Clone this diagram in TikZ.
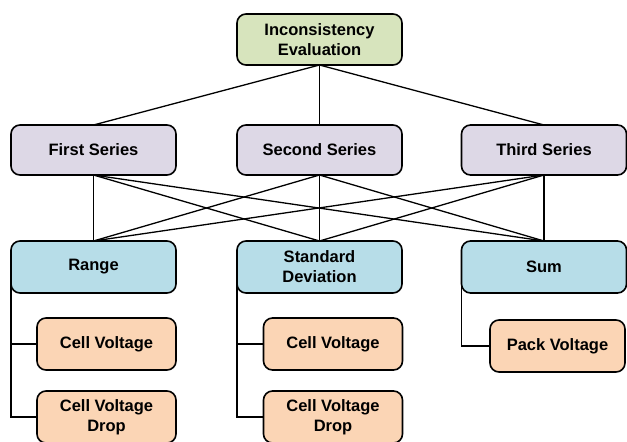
\documentclass[tikz,border=0pt]{standalone}
\usepackage{fontspec}
\setmainfont{Liberation Sans}
\usepackage{xcolor}
\usepackage{tikz}
\usetikzlibrary{positioning,calc}
\definecolor{EvalGreen}{HTML}{D7E4BD}
\definecolor{SeriesLilac}{HTML}{DDD8E6}
\definecolor{MetricBlue}{HTML}{B7DDE8}
\definecolor{LeafPeach}{HTML}{FBD5B5}
\tikzset{
    box/.style={rectangle, rounded corners=9pt, draw=black, line width=1.6pt, outer sep=0pt,
        align=center, text=black, font=\fontsize{16.5}{20}\selectfont\bfseries, inner sep=2pt},
    link/.style={draw=black, line width=1.3pt}
}

\begin{document}
\begin{tikzpicture}[
                x=1pt, y=-1pt,
                % Style nodes per level
                evalnode/.style={box, fill=EvalGreen, minimum width=165pt, minimum height=51pt},
                seriesnode/.style={box, fill=SeriesLilac, minimum width=165pt, minimum height=50pt},
                metricnode/.style={box, fill=MetricBlue, minimum width=165pt, minimum height=52pt},
                leafnode/.style={box, fill=LeafPeach, minimum width=139pt, minimum height=52pt}
            ]
                \useasboundingbox (0,0) rectangle (627,442);

                % 1. NODES
                \node[evalnode] (eval) at (319.5,39.5) {Inconsistency\\Evaluation};

                \node[seriesnode] (s1) at (93.5,150) {First Series};
                \node[seriesnode] (s2) at (319.5,150) {Second Series};
                \node[seriesnode] (s3) at (544,150) {Third Series};

                \node[metricnode] (range) at (93.5,267) {Range};
                \node[metricnode] (std) at (319.5,267) {Standard\\Deviation};
                \node[metricnode] (sum) at (544,267) {Sum};

                \node[leafnode] (cv1) at (106.5,344) {Cell Voltage};
                \node[leafnode] (cvd1) at (106.5,417) {Cell Voltage\\Drop};
                \node[leafnode] (cv2) at (333,344) {Cell Voltage};
                \node[leafnode] (cvd2) at (333,417) {Cell Voltage\\Drop};
                \node[leafnode, minimum width=135pt] (pack) at (557.5,346) {Pack Voltage};

                % 2. CONNECTORS
                \foreach \s in {s1,s2,s3}
                    \draw[link] (eval.south) -- (\s.north);
                \foreach \s in {s1,s2,s3}
                    \foreach \m in {range,std,sum}
                        \draw[link] (\s.south) -- (\m.north);

                % brackets down the left side
                \draw[link] (range.west) |- (cv1.west);
                \draw[link] (range.west) |- (cvd1.west);
                \draw[link] (std.west) |- (cv2.west);
                \draw[link] (std.west) |- (cvd2.west);
                \draw[link] (sum.west) |- (pack.west);

            \end{tikzpicture}
\end{document}
